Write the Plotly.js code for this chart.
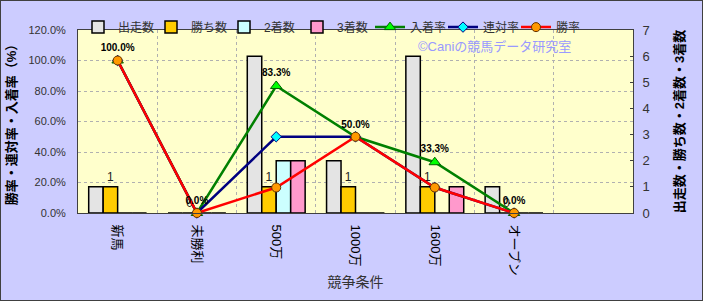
<!DOCTYPE html>
<html>
<head>
<meta charset="utf-8">
<script src="https://cdn.plot.ly/plotly-3.0.1.min.js"></script>
<style>
html,body{margin:0;padding:0;background:#ccccff;}
#chart{width:701px;height:299px;border:1px solid #404040;}
</style>
</head>
<body>
<div id="chart"></div>
<script>
const categories = ['新馬','未勝利','500万','1000万','1600万','オープン'];
const starts = [1, 0, 6, 2, 6, 1];
const wins = [1, 0, 1, 1, 1, 0];
const seconds = [0, 0, 2, 0, 0, 0];
const thirds = [0, 0, 2, 0, 1, 0];
const placeRate = [1.0, 0, 0.833, 0.5, 0.333, 0];
const quinellaRate = [1.0, 0, 0.5, 0.5, 0.167, 0];
const winRate = [1.0, 0, 0.167, 0.5, 0.167, 0];
const winsLabels = ['1', '0', '1', '1', '1', '0'];
const placeRateLabels = ['', '', '83.3%', '', '33.3%', ''];
const winRateLabels = ['100.0%', '0.0%', '', '50.0%', '', '0.0%'];

const FONT = 'Liberation Sans, Arial, Noto Sans CJK JP, sans-serif';
const barLine = {color: '#000000', width: 1.5};

const traces = [
  {type: 'bar', name: '出走数', x: categories, y: starts, yaxis: 'y',
   marker: {color: '#e4e4e4', line: barLine}},
  {type: 'bar', name: '勝ち数', x: categories, y: wins, yaxis: 'y',
   marker: {color: '#ffcc00', line: barLine},
   text: winsLabels, textposition: 'outside', cliponaxis: false,
   textfont: {size: 12, color: '#222', family: FONT}},
  {type: 'bar', name: '2着数', x: categories, y: seconds, yaxis: 'y',
   marker: {color: '#ccffff', line: barLine}},
  {type: 'bar', name: '3着数', x: categories, y: thirds, yaxis: 'y',
   marker: {color: '#ff99cc', line: barLine}},
  {type: 'scatter', name: '入着率', x: categories, y: placeRate, yaxis: 'y2',
   mode: 'lines+markers+text', text: placeRateLabels, textposition: 'top center',
   textfont: {size: 10, color: '#000', family: FONT, weight: 'bold'},
   line: {color: '#008000', width: 2.5}, cliponaxis: false,
   marker: {symbol: 'triangle-up', size: 10, color: '#00ff00', line: {color: '#006000', width: 1}}},
  {type: 'scatter', name: '連対率', x: categories, y: quinellaRate, yaxis: 'y2',
   mode: 'lines+markers', line: {color: '#000080', width: 2.5}, cliponaxis: false,
   marker: {symbol: 'diamond', size: 8, color: '#00ffff', line: {color: '#000080', width: 1}}},
  {type: 'scatter', name: '勝率', x: categories, y: winRate, yaxis: 'y2',
   mode: 'lines+markers+text', text: winRateLabels, textposition: 'top center',
   textfont: {size: 10, color: '#000', family: FONT, weight: 'bold'},
   line: {color: '#ff0000', width: 2.5}, cliponaxis: false,
   marker: {symbol: 'circle', size: 9, color: '#ff9900', line: {color: '#663300', width: 1}}}
];

const layout = {
  width: 701, height: 299,
  margin: {l: 77, r: 69, t: 25, b: 87, pad: 0},
  paper_bgcolor: '#ccccff',
  plot_bgcolor: '#ffffcc',
  font: {family: FONT, size: 12, color: '#333'},
  barmode: 'group',
  bargap: 0.27,
  bargroupgap: 0,
  showlegend: true,
  legend: {orientation: 'h', x: 0.0, xanchor: 'left', y: 1.095, yanchor: 'top',
           bgcolor: 'rgba(0,0,0,0)', font: {size: 12, color: '#333', family: FONT},
           entrywidth: 28, entrywidthmode: 'pixels', itemwidth: 30, traceorder: 'normal'},
  xaxis: {type: 'category', categoryorder: 'array', categoryarray: categories,
          range: [-0.5, 6.5], tickson: 'boundaries', ticks: '', tickangle: 90,
          ticklabelstandoff: 8,
          showgrid: true, gridcolor: '#b0b0b0', griddash: 'dot', gridwidth: 1,
          showline: true, linecolor: '#404040', linewidth: 1, mirror: true,
          tickfont: {size: 13, color: '#000', family: FONT},
          title: {text: '競争条件', font: {size: 14, color: '#333', family: FONT}, standoff: 2},
          fixedrange: true},
  yaxis: {range: [0, 7], dtick: 1, side: 'right', showgrid: false, zeroline: false,
          ticks: 'inside', ticklen: 3, tickcolor: '#404040', ticklabelstandoff: 6,
          showline: true, linecolor: '#404040', linewidth: 1,
          tickfont: {size: 13, color: '#333', family: FONT},
          title: {text: '出走数・勝ち数・2着数・3着数', font: {size: 13, color: '#000', family: FONT, weight: 'bold'}, standoff: 26}},
  yaxis2: {range: [0, 1.2], dtick: 0.2, tickformat: '.1%', side: 'left', overlaying: 'y',
           showgrid: true, gridcolor: '#b0b0b0', griddash: 'dot', zeroline: false,
           ticks: '', ticklabelstandoff: 9,
           showline: true, linecolor: '#404040', linewidth: 1,
           tickfont: {size: 11, color: '#333', family: FONT},
           title: {text: '勝率・連対率・入着率（%）', font: {size: 13, color: '#000', family: FONT, weight: 'bold'}, standoff: 8}},
  annotations: [
    {text: '©Caniの競馬データ研究室', xref: 'paper', yref: 'paper', x: 0.609, y: 0.909,
     xanchor: 'left', yanchor: 'middle', showarrow: false,
     font: {size: 13, color: '#9999ff', family: FONT}}
  ]
};

Plotly.newPlot('chart', traces, layout, {displayModeBar: false, staticPlot: true});
</script>
</body>
</html>
